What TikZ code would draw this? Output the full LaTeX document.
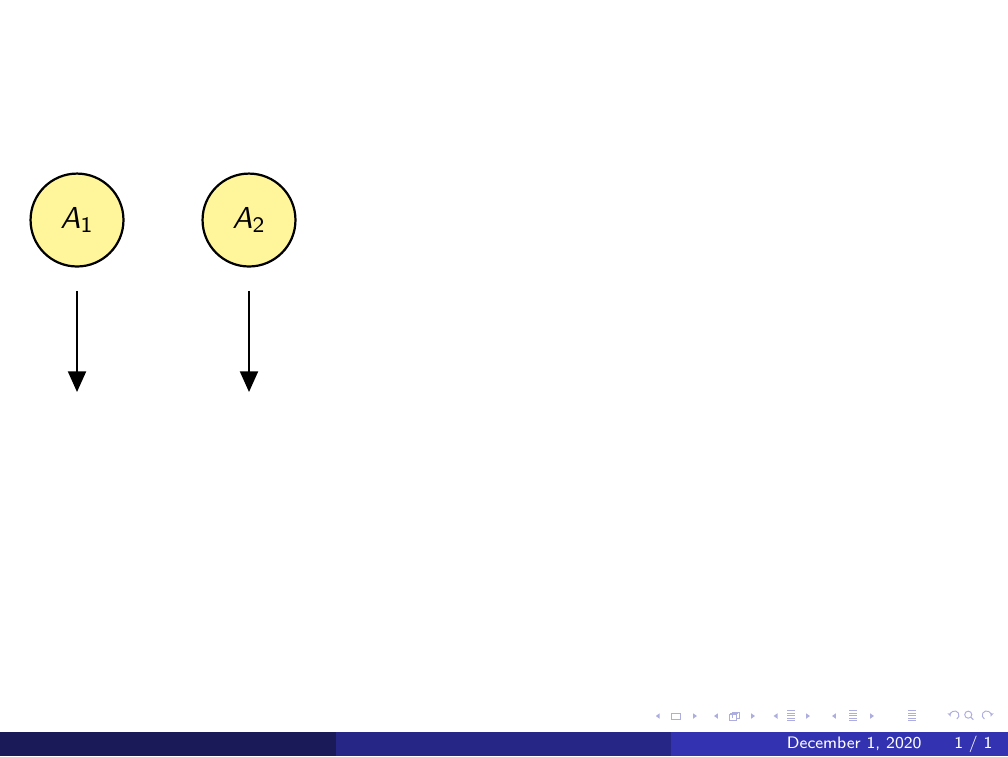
\documentclass[tikz,border=0pt]{standalone}
\usetikzlibrary{arrows.meta}
\DeclareMathAlphabet{\mathsfit}{OT1}{cmss}{m}{sl}
\definecolor{unitfill}{RGB}{255,245,155}
\definecolor{bardark}{RGB}{26,26,89}
\definecolor{barmid}{RGB}{38,38,134}
\definecolor{barlight}{RGB}{51,51,178}
\definecolor{navgrey}{RGB}{173,173,224}
\tikzset{
  unit/.style={circle, draw, thick, fill=unitfill, minimum size=1.18cm, inner sep=0pt, font=\fontsize{11}{13}\selectfont},
  flow/.style={thick, -{Triangle[length=7.5pt,width=6.5pt]}},
  foottext/.style={anchor=base east, inner sep=0pt, text=white, font=\fontsize{6}{7}\selectfont\sffamily},
  navline/.style={navgrey, line width=0.35pt},
}
\begin{document}
\begin{tikzpicture}
	\useasboundingbox (0,0) rectangle (12.8,9.6);
	% units and their outputs
	\node[unit] (a1) at (0.978,6.806) {$\mathsfit{A}_{\mathsf{1}}$};
	\node[unit] (a2) at (3.162,6.806) {$\mathsfit{A}_{\mathsf{2}}$};
	\coordinate (top1) at (0.978,5.905);
	\coordinate (bot1) at (0.978,4.622);
	\coordinate (top2) at (3.162,5.905);
	\coordinate (bot2) at (3.162,4.622);
	\draw[flow] (top1) -- (bot1);
	\draw[flow] (top2) -- (bot2);
	% footline
	\fill[bardark] (0,0) rectangle (4.267,0.305);
	\fill[barmid] (4.267,0) rectangle (8.52,0.305);
	\fill[barlight] (8.52,0) rectangle (12.8,0.305);
	\node[foottext] (date) at (11.708,0.095) {December 1, 2020};
	\node[foottext] (page) at (12.61,0.095) {1 / 1};
	% navigation symbols
	\foreach \x in {8.352, 9.092, 9.848, 10.590}
		\fill[navgrey] (\x+0.025,0.473) -- (\x-0.025,0.508) -- (\x+0.025,0.543) -- cycle;
	\foreach \x in {8.825, 9.562, 10.260, 11.073}
		\fill[navgrey] (\x-0.025,0.473) -- (\x+0.025,0.508) -- (\x-0.025,0.543) -- cycle;
	\draw[navline] (8.527,0.46) rectangle (8.641,0.546);
	\draw[navline] (9.265,0.45) rectangle (9.355,0.53);
	\draw[navline] (9.295,0.48) -- (9.295,0.555) -- (9.385,0.555) -- (9.385,0.48) -- (9.355,0.48);
	\draw[navline] (9.28,0.53) -- (9.28,0.545) -- (9.37,0.545) -- (9.37,0.53);
	\foreach \x in {10.044, 10.832, 11.581} {
		\foreach \y in {0.445, 0.478, 0.511, 0.544, 0.577}
			\draw[navline] (\x-0.045,\y) -- (\x+0.045,\y);
	}
	\draw[navline, -{Stealth[length=1.6pt]}] (12.15,0.47) arc (-60:200:0.055);
	\draw[navline] (12.295,0.525) circle (0.045);
	\draw[navline] (12.327,0.493) -- (12.36,0.46);
	\draw[navline, -{Stealth[length=1.6pt]}] (12.50,0.47) arc (240:-20:0.055);
\end{tikzpicture}
\end{document}
